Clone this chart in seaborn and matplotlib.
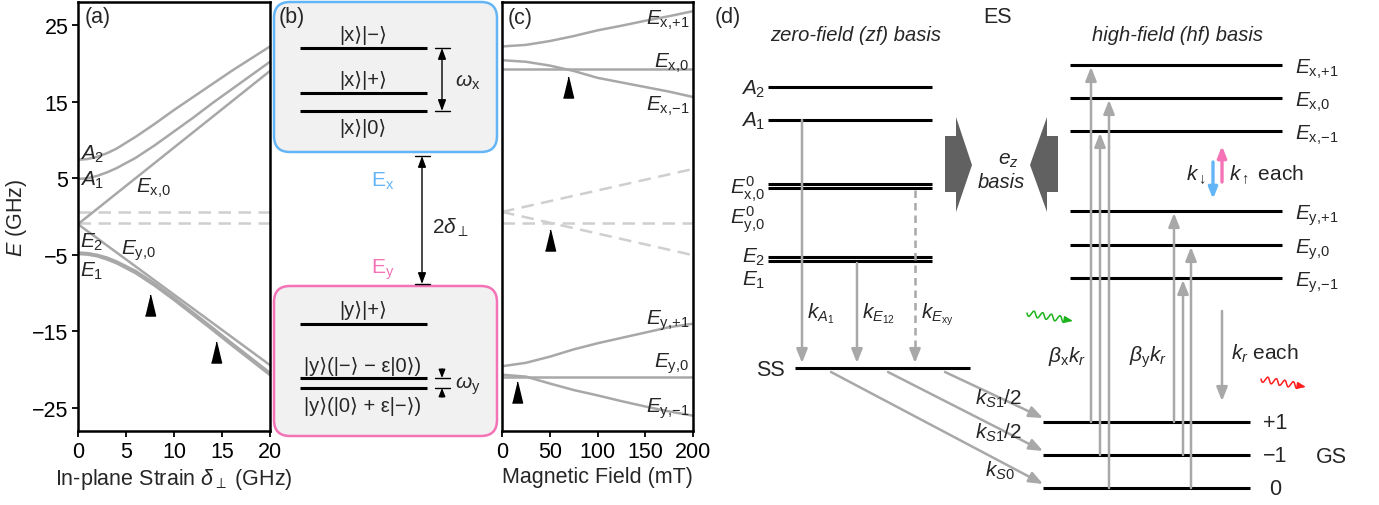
import numpy as np
import matplotlib
matplotlib.use('Agg')
import matplotlib.pyplot as plt
from matplotlib.patches import FancyBboxPatch, Polygon, ArrowStyle
import seaborn as sns

# ---------------- data: panel (a), energy vs in-plane strain ----------------
strain = [0, 1, 2, 3, 4, 6, 8, 10, 12, 14, 16, 18, 20]
E_A2 = [7.4, 7.5, 7.8, 8.25, 8.85, 10.4, 12.1, 13.9, 15.6, 17.3, 19.0, 20.6, 22.2]
E_A1 = [4.9, 5.0, 5.3, 5.75, 6.3, 7.65, 9.3, 11.1, 12.9, 14.8, 16.6, 18.4, 20.2]
E_E2 = [-4.7, -4.78, -5.0, -5.35, -5.85, -7.1, -8.75, -10.6, -12.55, -14.5, -16.5, -18.45, -20.4]
E_E1 = [-4.9, -4.98, -5.2, -5.6, -6.1, -7.4, -9.05, -10.9, -12.85, -14.8, -16.8, -18.75, -20.7]
strain_ends = [0, 20]
E_Ex0_a = [-1.0, 19.0]
E_Ey0_a = [-1.0, -19.4]
gs_ref_a = [0.6, -0.8]
a_mark_x = [7.5, 14.4]
a_mark_y = [-11.6, -17.7]

# ---------------- data: panel (c), energy vs magnetic field ----------------
field = [0, 25, 50, 75, 100, 125, 150, 175, 200]
E_xp1 = [22.2, 22.4, 22.9, 23.55, 24.3, 24.9, 25.55, 26.15, 26.8]
E_xm1 = [20.4, 20.2, 19.7, 19.0, 18.1, 17.5, 16.9, 16.3, 15.6]
E_yp1 = [-19.55, -19.1, -18.3, -17.35, -16.55, -15.85, -15.15, -14.45, -14.0]
E_ym1 = [-20.65, -20.9, -21.8, -22.65, -23.35, -24.1, -24.8, -25.45, -26.0]
field_ends = [0, 200]
E_x0_c = [19.2, 19.2]
E_y0_c = [-20.9, -20.9]
gs_up_c = [0.6, 6.2]
gs_down_c = [0.6, -5.05]
gs_flat_c = [-0.83, -0.83]
c_mark_x = [69, 50.3, 15.4]
c_mark_y = [16.9, -3.1, -22.9]

# ---------------- schematic levels (b) and (d) ----------------
x_kets = ['|x⟩|−⟩', '|x⟩|+⟩', '|x⟩|0⟩']
y_kets = ['|y⟩|+⟩', '|y⟩(|−⟩ − ε|0⟩)', '|y⟩(|0⟩ + ε|−⟩)']
b_x_levels = [49, 94, 112]
b_y_levels = [325, 379, 389]


def E(a, b, sup=''):
    s = r'^{%s}' % sup if sup else ''
    return r'$E%s_{\mathrm{%s},\!\mathrm{%s}}$' % (s, a, b)


zf_names = [r'$A_2$', r'$A_1$', E('x', '0', '0'), E('y', '0', '0'), r'$E_2$', r'$E_1$']
zf_levels = [88, 121, 185, 189, 258, 262]
zf_label_base = [95, 127, 194, 224, 263, 286]
hf_names = [E('x', '+1'), E('x', '0'), E('x', '-1'), E('y', '+1'), E('y', '0'), E('y', '-1')]
hf_levels = [66, 99, 132, 212, 246, 279]
gs_names = ['+1', '−1', '0']
gs_levels = [423, 456, 489]
ss_level = 369
# optical pumping: (column, ground level index, excited hf level index)
pump_cols = [1091, 1100, 1109, 1174, 1183, 1191]
pump_from = [0, 1, 2, 0, 1, 2]
pump_to = [0, 2, 1, 3, 5, 4]

GRAY = '#a8a8a8'
LGRAY = '#cfcfcf'
BLUE = '#64b5f6'
PINK = '#f472b6'

sns.set_style('ticks')
plt.rcParams['font.family'] = ['Liberation Sans', 'DejaVu Sans']
plt.rcParams['mathtext.fontset'] = 'custom'
plt.rcParams['mathtext.rm'] = 'Liberation Sans'
plt.rcParams['mathtext.it'] = 'Liberation Sans:italic'
plt.rcParams['mathtext.bf'] = 'Liberation Sans:bold'
plt.rcParams['mathtext.sf'] = 'Liberation Sans'
plt.rcParams['mathtext.fallback'] = 'stix'

FS = 15.5   # axis text
LS = 15     # level labels

fig = plt.figure(figsize=(13.79, 5.06), dpi=100)
W, H = 1379, 506


def frame(ax):
    for s in ax.spines.values():
        s.set_linewidth(1.8)
        s.set_color('black')
    ax.tick_params(direction='out', length=4, width=1.3, labelsize=FS, colors='black', pad=3)


def curve(ax, x, y, color=GRAY, ls='-'):
    sns.lineplot(x=x, y=y, ax=ax, color=color, lw=1.8, linestyle=ls, estimator=None, sort=False)


tri = [(-0.24, -0.5), (0.24, -0.5), (0, 0.5)]

# ---------------- panel (a) ----------------
ax_a = fig.add_axes([78 / W, 1 - 432 / H, 192 / W, 429 / H])
for g in gs_ref_a:
    curve(ax_a, strain_ends, [g, g], LGRAY, (0, (5, 3)))
for ys in [E_A2, E_A1, E_E2, E_E1]:
    curve(ax_a, strain, ys)
curve(ax_a, strain_ends, E_Ex0_a)
curve(ax_a, strain_ends, E_Ey0_a)
ax_a.scatter(a_mark_x, a_mark_y, marker=tri, s=230, color='black', zorder=5)
ax_a.set_xlim(0, 20)
ax_a.set_ylim(-28, 28)
ax_a.set_xticks([0, 5, 10, 15, 20])
ax_a.set_yticks([-25, -15, -5, 5, 15, 25])
ax_a.set_xlabel(r'In-plane Strain $\delta_{\perp}$ (GHz)', fontsize=FS, labelpad=3)
ax_a.set_ylabel(r'$E$ (GHz)', fontsize=FS, labelpad=2)
frame(ax_a)
lab_kw = dict(fontsize=LS, va='baseline')
ax_a.text(0.2, 7.6, r'$A_2$', ha='left', **lab_kw)
ax_a.text(0.2, 4.1, r'$A_1$', ha='left', **lab_kw)
ax_a.text(6.0, 3.2, E('x', '0'), ha='left', **lab_kw)
ax_a.text(0.2, -4.0, r'$E_2$', ha='left', **lab_kw)
ax_a.text(4.5, -4.8, E('y', '0'), ha='left', **lab_kw)
ax_a.text(0.2, -7.7, r'$E_1$', ha='left', **lab_kw)

# ---------------- panel (c) ----------------
ax_c = fig.add_axes([502 / W, 1 - 432 / H, 191 / W, 429 / H])
curve(ax_c, field_ends, gs_up_c, LGRAY, (0, (5, 3)))
curve(ax_c, field_ends, gs_down_c, LGRAY, (0, (5, 3)))
curve(ax_c, field_ends, gs_flat_c, LGRAY, (0, (5, 3)))
for ys in [E_xp1, E_xm1, E_yp1, E_ym1]:
    curve(ax_c, field, ys)
curve(ax_c, field_ends, E_x0_c)
curve(ax_c, field_ends, E_y0_c)
ax_c.scatter(c_mark_x, c_mark_y, marker=tri, s=230, color='black', zorder=5)
ax_c.set_xlim(0, 200)
ax_c.set_ylim(-28, 28)
ax_c.set_xticks([0, 50, 100, 150, 200])
ax_c.set_yticks([])
ax_c.set_xlabel('Magnetic Field (mT)', fontsize=FS, labelpad=3)
ax_c.set_ylabel('')
frame(ax_c)
for name, yb in zip(hf_names, [25.2, 19.55, 14.0, -14.0, -19.6, -25.5]):
    ax_c.text(196, yb, name, ha='right', **lab_kw)

# ---------------- overlay in pixel units for (b) and (d) ----------------
ov = fig.add_axes([0, 0, 1, 1])
ov.set_xlim(0, W)
ov.set_ylim(H, 0)
ov.axis('off')
ov.patch.set_alpha(0)

head = ArrowStyle('-|>', head_length=0.55, head_width=0.22)
dhead = ArrowStyle('<|-|>', head_length=0.6, head_width=0.22)


def arrow(x0, y0, x1, y1, color=GRAY, lw=1.8, ms=15, style=head):
    ov.annotate('', xy=(x1, y1), xytext=(x0, y0),
                arrowprops=dict(arrowstyle=style, color=color, lw=lw, shrinkA=0, shrinkB=0,
                                mutation_scale=ms))


def wavy(x0, y0, x1, y1, color):
    t = np.linspace(0, 1, 300)
    dx, dy = x1 - x0, y1 - y0
    L = np.hypot(dx, dy)
    nx, ny = -dy / L, dx / L
    tt = t * 0.85
    amp = 3.0 * np.sin(2 * np.pi * 4.5 * t)
    xs = x0 + dx * tt + nx * amp
    ys = y0 + dy * tt + ny * amp
    ov.plot(xs, ys, color=color, lw=1.1)
    arrow(xs[-1], ys[-1], x1, y1, color=color, lw=1.1, ms=9)


for lab, x, y in [('(a)', 98, 17), ('(b)', 292, 17), ('(c)', 520, 18), ('(d)', 728, 17)]:
    ov.text(x, y, lab, ha='center', va='center', fontsize=FS)

# panel (b)
for (y0, y1, ec) in [(3, 153, BLUE), (287, 437, PINK)]:
    ov.add_patch(FancyBboxPatch((274, y0), 223, y1 - y0,
                                boxstyle='round,pad=0,rounding_size=16',
                                fc='#f1f1f1', ec=ec, lw=1.8))
for y in b_x_levels + b_y_levels:
    ov.plot([300, 427], [y, y], color='black', lw=2.2, solid_capstyle='butt')
for lab, y in zip(x_kets, [35, 80, 128]):
    ov.text(363, y, lab, ha='center', va='center', fontsize=14.5)
for lab, y in zip(y_kets, [310, 366, 407]):
    ov.text(363, y, lab, ha='center', va='center', fontsize=14.5)

arrow(442, 49, 442, 112, color='black', lw=1.0, ms=11, style=dhead)
ov.plot([435, 450], [49, 49], color='black', lw=1.0)
ov.plot([435, 450], [112, 112], color='black', lw=1.0)
ov.text(468, 82, r'$\omega_{\mathrm{x}}$', ha='center', va='center', fontsize=LS)

arrow(422, 157, 422, 285, color='black', lw=1.0, ms=11, style=dhead)
ov.plot([415, 430], [157, 157], color='black', lw=1.0)
ov.plot([415, 430], [285, 285], color='black', lw=1.0)
ov.text(451, 228, r'$2\delta_{\perp}$', ha='center', va='center', fontsize=LS)
ov.text(383, 181, r'E$_{\mathrm{x}}$', ha='center', va='center', fontsize=LS, color=BLUE)
ov.text(383, 270, r'E$_{\mathrm{y}}$', ha='center', va='center', fontsize=LS, color=PINK)

ov.plot([435, 450], [379, 379], color='black', lw=1.0)
ov.plot([435, 450], [389, 389], color='black', lw=1.0)
arrow(442, 370, 442, 379, color='black', lw=1.0, ms=9)
arrow(442, 398, 442, 389, color='black', lw=1.0, ms=9)
ov.text(468, 386, r'$\omega_{\mathrm{y}}$', ha='center', va='center', fontsize=LS)

# panel (d) headers
ov.text(856, 35, 'zero-field (zf) basis', ha='center', va='center', fontsize=14.5, style='italic')
ov.text(1177, 35, 'high-field (hf) basis', ha='center', va='center', fontsize=14.5, style='italic')
ov.text(998, 17, 'ES', ha='center', va='center', fontsize=FS)

# zero-field levels
for y in zf_levels:
    ov.plot([768, 932], [y, y], color='black', lw=2.2, solid_capstyle='butt')
for name, yb in zip(zf_names, zf_label_base):
    ov.text(765, yb, name, ha='right', va='baseline', fontsize=LS)

# high-field levels
for y in hf_levels:
    ov.plot([1070, 1282], [y, y], color='black', lw=2.2, solid_capstyle='butt')
for name, y in zip(hf_names, hf_levels):
    ov.text(1295, y + 8, name, ha='left', va='baseline', fontsize=LS)

# singlet and ground levels
ov.plot([795, 970], [ss_level, ss_level], color='black', lw=2.2, solid_capstyle='butt')
ov.text(770, ss_level + 1, 'SS', ha='center', va='center', fontsize=FS)
for name, y in zip(gs_names, gs_levels):
    ov.plot([1043, 1250], [y, y], color='black', lw=2.2, solid_capstyle='butt')
    ov.text(1275, y + 1, name, ha='center', va='center', fontsize=FS)
ov.text(1331, 458, 'GS', ha='center', va='center', fontsize=FS)

# intersystem crossing to SS
arrow(802, zf_levels[1], 802, ss_level - 5)
arrow(857, zf_levels[5] + 2, 857, ss_level - 5)
ov.plot([915, 915], [zf_levels[3] + 2, ss_level - 14], color=GRAY, lw=1.8, ls=(0, (3, 2)))
arrow(915, ss_level - 16, 915, ss_level - 5)
ov.text(807, 318, r'$k_{A_1}$', ha='left', va='baseline', fontsize=LS)
ov.text(862, 318, r'$k_{E_{12}}$', ha='left', va='baseline', fontsize=LS)
ov.text(921, 318, r'$k_{E_{\mathrm{xy}}}$', ha='left', va='baseline', fontsize=LS)

# SS -> GS
for xs, yg in zip([945, 888, 831], gs_levels):
    arrow(xs, ss_level + 4, 1043, yg - 4)
ov.text(999, 399, r'$k_{S1}/2$', ha='center', va='center', fontsize=LS)
ov.text(999, 433, r'$k_{S1}/2$', ha='center', va='center', fontsize=LS)
ov.text(1000, 471, r'$k_{S0}$', ha='center', va='center', fontsize=LS)

# optical pumping GS -> ES
for xc, i0, i1 in zip(pump_cols, pump_from, pump_to):
    arrow(xc, gs_levels[i0], xc, hf_levels[i1] + 2)
ov.text(1067, 357, r'$\beta_{\mathrm{x}}k_r$', ha='center', va='center', fontsize=LS)
ov.text(1148, 357, r'$\beta_{\mathrm{y}}k_r$', ha='center', va='center', fontsize=LS)
arrow(1222, 312, 1222, 402)
ov.text(1231, 354, r'$k_r$ each', ha='left', va='center', fontsize=LS)

# spin-flip arrows
arrow(1213, 163, 1213, 200, color=BLUE, lw=2.4, ms=12)
arrow(1222, 183, 1222, 147, color=PINK, lw=2.4, ms=12)
ov.text(1196, 175, r'$k_{\downarrow}$', ha='center', va='center', fontsize=LS)
ov.text(1229, 175, r'$k_{\uparrow}$ each', ha='left', va='center', fontsize=LS)

# basis change block arrows
ov.add_patch(Polygon([(945, 137), (956, 137), (956, 118), (972, 166), (956, 213),
                      (956, 193), (945, 193)], closed=True, fc='#616161', ec='none'))
ov.add_patch(Polygon([(1058, 137), (1047, 137), (1047, 118), (1030, 166), (1047, 213),
                      (1047, 193), (1058, 193)], closed=True, fc='#616161', ec='none'))
ov.text(1008, 160, r'$e_z$', ha='center', va='center', fontsize=LS)
ov.text(1001, 182, 'basis', ha='center', va='center', fontsize=14.5, style='italic')

# photons
wavy(1027, 314, 1073, 322, '#1db31d')
wavy(1261, 380, 1306, 388, '#ff1f1f')

fig.savefig('out.png', dpi=100)
